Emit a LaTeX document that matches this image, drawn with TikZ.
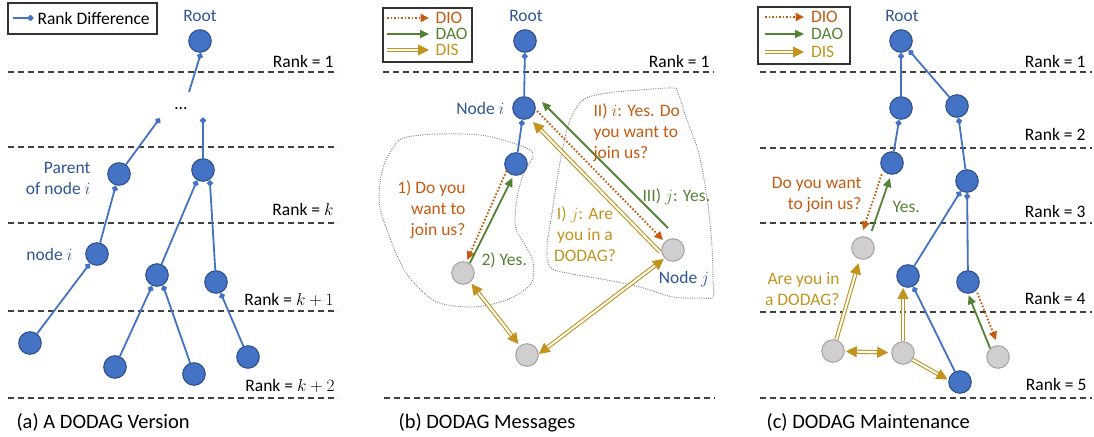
\documentclass[tikz,border=0pt]{standalone}
\usepackage{fontspec}
\setmainfont{Carlito}
\usetikzlibrary{arrows.meta,calc}
\definecolor{nblue}{RGB}{68,114,196}
\definecolor{nbord}{RGB}{47,82,143}
\definecolor{tblue}{RGB}{47,85,151}
\definecolor{gfill}{RGB}{208,206,206}
\definecolor{gbord}{RGB}{170,166,166}
\definecolor{dioc}{RGB}{197,90,17}
\definecolor{daoc}{RGB}{84,130,53}
\definecolor{disc}{RGB}{194,148,30}
\definecolor{dashc}{RGB}{64,64,64}
\begin{document}
\begin{tikzpicture}[x=1pt,y=-1pt,
 every node/.style={font=\fontsize{17.5}{21}\selectfont},
 bn/.style={circle,fill=nblue,draw=nbord,line width=1.1pt,minimum size=22.5pt,inner sep=0pt},
 gn/.style={circle,fill=gfill,draw=gbord,line width=1.1pt,minimum size=22.5pt,inner sep=0pt},
 rankdash/.style={draw=dashc,line width=1.2pt,dash pattern=on 6pt off 4pt},
 ranktxt/.style={anchor=base east,text=black},
 rd/.style={draw=nblue,line width=1.8pt,-{Diamond[length=7pt,width=6.5pt]}},
 dio/.style={draw=dioc,line width=1.9pt,dash pattern=on 1.6pt off 1.9pt,-{Triangle[length=8.5pt,width=8pt]}},
 dao/.style={draw=daoc,line width=1.8pt,-{Triangle[length=9pt,width=8pt]}},
 dis/.style={draw=disc,double=white,double distance=2pt,line width=1.1pt,-{Triangle[length=11pt,width=11pt]}},
 disb/.style={draw=disc,double=white,double distance=2pt,line width=1.1pt,{Triangle[length=11pt,width=11pt]}-{Triangle[length=11pt,width=11pt]}},
 blob/.style={draw=gray,line width=0.9pt,dash pattern=on 1pt off 1.3pt},
 legbox/.style={draw=black!80,line width=1.3pt},
 capt/.style={anchor=base west,font=\fontsize{20.5}{24}\selectfont},
]
\useasboundingbox (0,0) rectangle (1094,436);

% ================= (a) =================
\draw[legbox] (8,3) rectangle (157,34);
\coordinate (la1) at (13,18); \coordinate (la2) at (34,18);
\draw[rd] (la1) -- (la2);
\node[anchor=west] (lat) at (34,18) {Rank Difference};

\foreach \yy in {72,147,223,311,398} \draw[rankdash] (8,\yy) -- (338,\yy);
\node[ranktxt] (ar1) at (337,67) {Rank = 1};
\node[ranktxt] (ark) at (337,215) {Rank = $k$};
\node[ranktxt] (ark1) at (337,305) {Rank = $k+1$};
\node[ranktxt] (ark2) at (338,391) {Rank = $k+2$};

\node[bn] (aR) at (200,41) {};
\node[text=tblue,anchor=base] (aRl) at (200,22) {Root};
\node[anchor=base] (adots) at (181,109.5) {\dots};
\node[bn] (aP) at (119,174) {};
\node[bn] (aQ) at (203,170) {};
\node[bn] (ani) at (97,254) {};
\node[bn] (aA) at (157,275) {};
\node[bn] (aB) at (216,282) {};
\node[bn] (aC) at (30,343) {};
\node[bn] (aD) at (115,367) {};
\node[bn] (aE) at (194,374) {};
\node[bn] (aF) at (248,357) {};
\node[text=tblue,align=right,anchor=east] (aPl) at (94,178) {Parent\\of node $i$};
\node[text=tblue,anchor=east] (anil) at (76,254) {node $i$};

\coordinate (ad1) at (189,92);
\coordinate (ad2) at (160,118);
\coordinate (ad3) at (203,117);
\draw[rd] (ad1) -- (aR.275);
\draw[rd] (aP) -- (ad2);
\draw[rd] (aQ) -- (ad3);
\draw[rd] (ani) -- (aP);
\draw[rd] (aA) -- (aQ.240);
\draw[rd] (aB) -- (aQ.305);
\draw[rd] (aC) -- (ani);
\draw[rd] (aD) -- (aA);
\draw[rd] (aE) -- (aA.300);
\draw[rd] (aF) -- (aB);

\node[capt] (acap) at (13,428) {(a) A DODAG Version};

% ================= (b) =================
\draw[legbox] (383,8) rectangle (472,62);
\coordinate (lb1) at (387,18); \coordinate (lb2) at (429,18);
\coordinate (lb3) at (387,34); \coordinate (lb4) at (429,34);
\coordinate (lb5) at (387,50); \coordinate (lb6) at (429,50);
\draw[dio] (lb1) -- (lb2);
\draw[dao] (lb3) -- (lb4);
\draw[dis] (lb5) -- (lb6);
\node[anchor=west,text=dioc] (lbt1) at (432,18) {DIO};
\node[anchor=west,text=daoc] (lbt2) at (432,34) {DAO};
\node[anchor=west,text=disc] (lbt3) at (432,50) {DIS};

\draw[rankdash] (383,72) -- (714,72);
\draw[rankdash] (384,398) -- (715,398);
\node[ranktxt] (br1) at (713,67) {Rank = 1};

\draw[blob] plot[smooth cycle,tension=0.55] coordinates {(403,138) (437,134) (480,135) (510,142) (530,150) (533,157) (528,165) (522,178) (517,198) (515,218) (517,232) (527,248) (533,262) (532,282) (517,295) (497,303) (470,307) (437,302) (413,282) (400,262) (390,238) (380,208) (380,182) (385,162) (393,148)};
\draw[blob] plot[smooth cycle,tension=0.55] coordinates {(570,120) (583,100) (607,93) (640,90) (673,88) (678,93) (687,120) (697,147) (703,173) (709,213) (712,247) (713,280) (713,297) (700,298) (673,297) (640,287) (607,280) (567,273) (550,267) (547,247) (552,213) (557,180) (563,147)};

\node[bn] (bR) at (525,41) {};
\node[text=tblue,anchor=base] (bRl) at (526,22) {Root};
\node[bn] (bni) at (524,108) {};
\node[text=tblue,anchor=east] (bnil) at (508,108) {Node $i$};
\node[bn] (bk) at (516,164) {};
\node[gn] (bgl) at (463,273) {};
\node[gn] (bgj) at (673,250) {};
\node[gn] (bgb) at (527,355) {};
\node[text=tblue] (bgjl) at (684,279.5) {Node $j$};

\draw[rd] (bni) -- (bR);
\draw[rd] (bk) -- (bni);
\draw[dio,shorten >=2pt] (bk.216) -- (bgl.73);
\draw[dao,shorten >=2.5pt] (bgl.55) -- (bk.258);

\draw[dao] ($(bgj)+(-5,-22)$) -- ($(bni)+(18,-6)$);
\draw[dio] ($(bni)+(13,3)$) -- ($(bgj)+(-10,-10)$);
\draw[dis] ($(bgj)+(-13,2)$) -- ($(bni)+(9,14)$);
\draw[disb,shorten >=2pt,shorten <=2pt] (bgl) -- (bgb);
\draw[disb,shorten >=1pt] (bgb.5) -- (bgj.225);

\node[text=dioc,align=right,anchor=east] (bt1) at (469,209.5) {1) Do you\\want to\\join us?};
\node[text=daoc,anchor=west] (bt2) at (478,260) {2) Yes.};
\node[text=dioc,align=left,anchor=west] (bt3) at (590,133) {II) $i$: Yes. Do\\you want to\\join us?};
\node[text=daoc,anchor=west] (bt4) at (639,197) {III) $j$: Yes.};
\node[text=disc,align=center] (bt5) at (585,234) {I) $j$: Are\\you in a\\DODAG?};

\node[capt] (bcap) at (395,428) {(b) DODAG Messages};

% ================= (c) =================
\draw[legbox] (758,7) rectangle (850,64);
\coordinate (lc1) at (765,17); \coordinate (lc2) at (804,17);
\coordinate (lc3) at (765,34); \coordinate (lc4) at (804,34);
\coordinate (lc5) at (765,52); \coordinate (lc6) at (804,52);
\draw[dio] (lc1) -- (lc2);
\draw[dao] (lc3) -- (lc4);
\draw[dis] (lc5) -- (lc6);
\node[anchor=west,text=dioc] (lct1) at (807.5,17) {DIO};
\node[anchor=west,text=daoc] (lct2) at (807.5,34) {DAO};
\node[anchor=west,text=disc] (lct3) at (807.5,52) {DIS};

\foreach \yy in {72,148,223,312,398} \draw[rankdash] (760,\yy) -- (1092,\yy);
\node[ranktxt] (cr1) at (1089,67) {Rank = 1};
\node[ranktxt] (cr2) at (1089,140.5) {Rank = 2};
\node[ranktxt] (cr3) at (1089,217.5) {Rank = 3};
\node[ranktxt] (cr4) at (1089,304.5) {Rank = 4};
\node[ranktxt] (cr5) at (1090,390.5) {Rank = 5};

\node[bn] (cR) at (901,41) {};
\node[text=tblue,anchor=base] (cRl) at (902,22) {Root};
\node[bn] (ca2) at (901,108) {};
\node[bn] (cb2) at (957,106) {};
\node[bn] (ca3) at (892,163) {};
\node[bn] (cb3) at (967,181) {};
\node[gn] (cg1) at (863,248) {};
\node[bn] (ca4) at (908,276) {};
\node[bn] (cb4) at (968,282) {};
\node[gn] (cg2) at (833,351) {};
\node[gn] (cg3) at (903,353) {};
\node[bn] (cb5) at (960,382) {};
\node[gn] (cg4) at (998,357) {};

\draw[rd] (ca2) -- (cR);
\draw[rd] (cb2) -- (cR);
\draw[rd] (ca3) -- (ca2);
\draw[rd] (cb3) -- (cb2);
\draw[rd] (ca4) -- (cb3);
\draw[rd] (cb4) -- (cb3);
\draw[rd] (cb5) -- (ca4);

\draw[dio,shorten <=4pt,shorten >=6.7pt] (ca3.220) -- (cg1.100);
\draw[dao,shorten <=7.4pt,shorten >=3.5pt] (cg1.58) -- (ca3.266);
\draw[dis,shorten >=4pt] (cg2) -- (cg1);
\draw[disb,shorten >=3pt,shorten <=1pt] (cg2) -- (cg3);
\draw[dis] (cg3.north) -- (cg3.north |- ca4.south);
\draw[dis,shorten >=1pt] (cg3.325) -- (cb5.170);
\draw[dao,shorten >=1.5pt] (cg4.132) -- (cb4.south);
\draw[dio,shorten <=2.5pt,shorten >=5.5pt] (cb4.315) -- (cg4.north);

\node[text=dioc,align=right,anchor=east] (ct1) at (865,195.3) {Do you want\\to join us?};
\node[text=daoc,anchor=west] (ct2) at (889,207) {Yes.};
\node[text=disc,align=right,anchor=east] (ct3) at (843,289.5) {Are you in\\a DODAG?};

\node[capt] (ccap) at (763,428) {(c) DODAG Maintenance};
\end{tikzpicture}
\end{document}
